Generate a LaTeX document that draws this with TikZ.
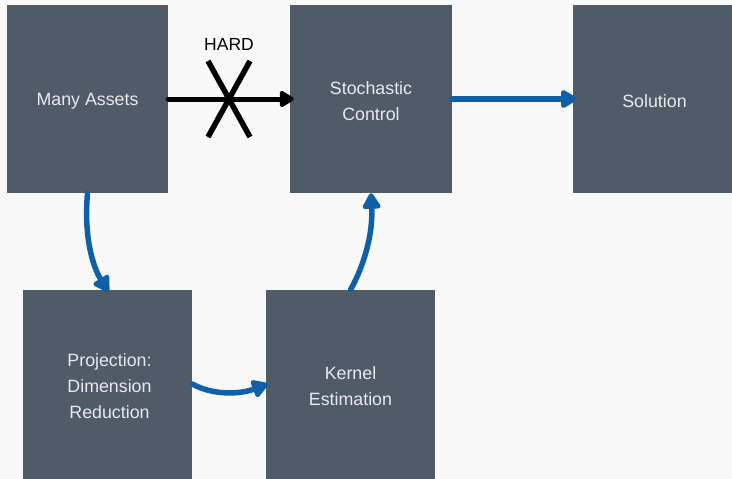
\documentclass[tikz,border=0pt]{standalone}
\usepackage{fontspec}
\setmainfont{Liberation Sans}
\usetikzlibrary{arrows.meta,calc}
\definecolor{bg}{HTML}{F9F9F9}
\definecolor{boxc}{HTML}{4F5B66}
\definecolor{txtc}{HTML}{E8EAEC}
\definecolor{flow}{HTML}{1060A8}
\tikzset{
  block/.style={fill=boxc, draw=none, inner sep=0pt},
  blocktext/.style={text=txtc, align=center, inner sep=0pt,
    font=\fontsize{17.8}{26}\selectfont},
  flowarrow/.style={draw=flow, line width=5.5pt, line cap=round,
    -{Triangle[round,length=18pt,width=20pt]}},
  hardarrow/.style={draw=black, line width=5pt, line cap=round,
    -{Triangle[round,length=16pt,width=18pt]}},
  crossline/.style={draw=black, line width=5.5pt},
}
\begin{document}
\begin{tikzpicture}[x=1pt,y=-1pt]
\path[fill=bg] (0,0) rectangle (732,479);
\useasboundingbox (0,0) rectangle (732,479);

\node[block, minimum width=161pt, minimum height=188pt,
  label={[blocktext, yshift=-2pt]center:Many Assets}] (ma) at (87.5,99) {};
\node[block, minimum width=162pt, minimum height=188pt,
  label={[blocktext, yshift=-2pt]center:Stochastic\\Control}] (sc) at (371,99) {};
\node[block, minimum width=163pt, minimum height=188pt,
  label={[blocktext, yshift=-2pt]center:Solution}] (so) at (654.5,99) {};
\node[block, minimum width=169pt, minimum height=192pt,
  label={[blocktext, xshift=2pt]center:Projection:\\Dimension\\Reduction}] (pr) at (107.5,386) {};
\node[block, minimum width=169pt, minimum height=192pt,
  label={[blocktext]center:Kernel\\Estimation}] (ke) at (350.5,386) {};

% hard arrow with cross
\draw[hardarrow] (ma.east) -- ($(sc.west)+(4,0)$);
\coordinate (x) at ($(ma.east)!0.5!(sc.west)$);
\draw[crossline] ($(x)+(-21,-38)$) -- ($(x)+(21,38)$);
\draw[crossline] ($(x)+(21,-38)$) -- ($(x)+(-21,38)$);
\node[font=\fontsize{17.5}{20}\selectfont, text=black] (hard) at ($(x)+(0,-55)$) {HARD};

% blue arrows
\draw[flowarrow] (sc.east) -- ($(so.west)+(4,0)$);
\draw[flowarrow] (ma.south) .. controls ($(ma.south)+(-4,45)$) and ($(pr.north)+(-14,-22)$) .. ($(pr.north)+(1,2)$);
\draw[flowarrow] ($(pr.east)+(0,-2)$) .. controls ($(pr.east)+(22,10)$) and ($(ke.west)+(-25,8)$) .. ($(ke.west)+(2,-2)$);
\draw[flowarrow] (ke.north) .. controls ($(ke.north)+(14,-25)$) and ($(sc.south)+(2,40)$) .. ($(sc.south)+(0,0)$);
\end{tikzpicture}
\end{document}
